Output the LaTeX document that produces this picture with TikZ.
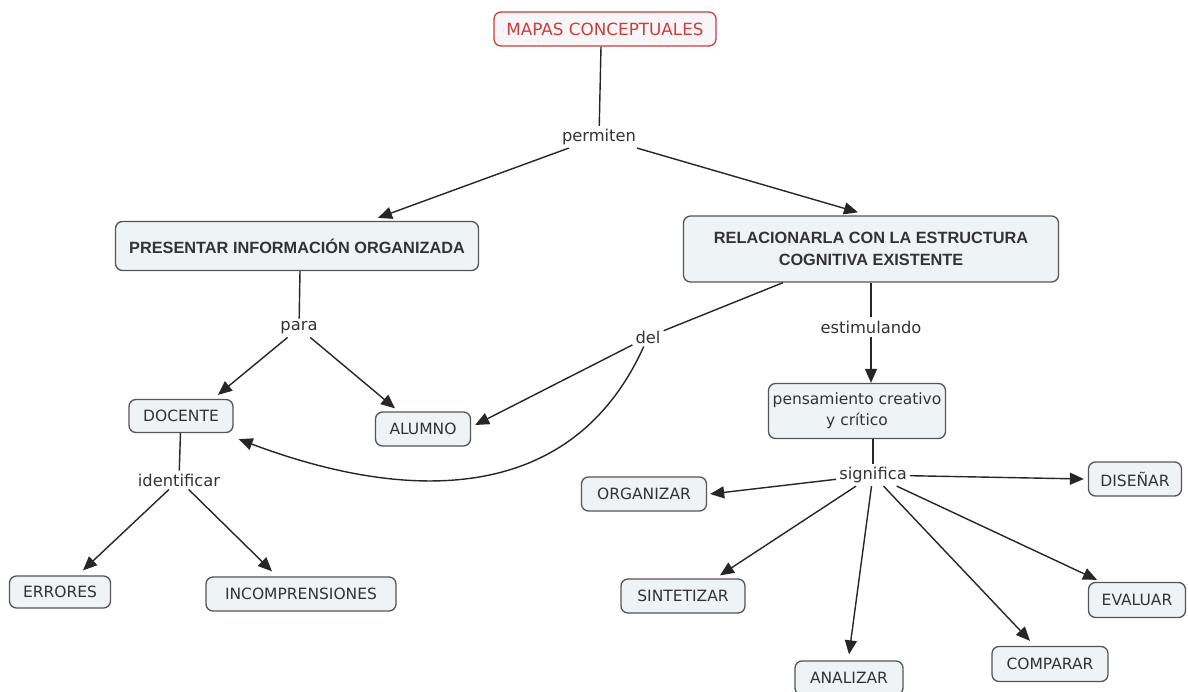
\documentclass[tikz,border=0pt]{standalone}
\usepackage{fontspec}
\setmainfont{DejaVu Sans}
\newfontfamily\arialf{Liberation Sans}
\usetikzlibrary{arrows.meta}
\definecolor{boxfill}{HTML}{EEF3F6}
\definecolor{boxdraw}{HTML}{555555}
\definecolor{txt}{HTML}{333333}
\definecolor{redc}{HTML}{C8403A}
\definecolor{redfill}{HTML}{F7F5F7}
\begin{document}
\begin{tikzpicture}[x=1pt,y=-1pt,
  concept/.style={draw=boxdraw, line width=1.3pt, fill=boxfill, rounded corners=7pt, text=txt,
    font=\fontsize{15.5}{21}\selectfont, inner sep=0pt, align=center},
  bconcept/.style={concept, font=\arialf\bfseries\fontsize{16.3}{22}\selectfont},
  lbl/.style={text=txt, font=\fontsize{16.3}{18}\selectfont, inner sep=3pt},
  arr/.style={-{Triangle[length=14pt,width=12pt]}, line width=1.4pt, draw=black!85},
  ln/.style={line width=1.4pt, draw=black!85}]
\useasboundingbox (0,0) rectangle (1188,692);
\fill[white] (0,0) rectangle (1188,692);

% concepts
\node[concept, draw=redc, fill=redfill, text=redc, font=\fontsize{16.8}{20}\selectfont, minimum width=222pt, minimum height=34pt] (map) at (605,29) {MAPAS CONCEPTUALES};
\node[bconcept, minimum width=363pt, minimum height=49pt] (pres) at (297,246) {PRESENTAR INFORMACIÓN ORGANIZADA};
\node[bconcept, minimum width=375pt, minimum height=66pt] (rel) at (871,249) {RELACIONARLA CON LA ESTRUCTURA\\COGNITIVA EXISTENTE};
\node[concept, minimum width=104pt, minimum height=33pt] (doc) at (181,416) {DOCENTE};
\node[concept, minimum width=95pt, minimum height=34pt] (alu) at (423,429) {ALUMNO};
\node[concept, minimum width=177pt, minimum height=55pt] (pens) at (857,411) {pensamiento creativo\\y crítico};
\node[concept, minimum width=125pt, minimum height=34pt] (org) at (644,494) {ORGANIZAR};
\node[concept, minimum width=93pt, minimum height=34pt] (dis) at (1135,479) {DISEÑAR};
\node[concept, minimum width=124pt, minimum height=34pt] (sin) at (683,596) {SINTETIZAR};
\node[concept, minimum width=97pt, minimum height=35pt] (eva) at (1137,600) {EVALUAR};
\node[concept, minimum width=108pt, minimum height=34pt] (ana) at (849,678) {ANALIZAR};
\node[concept, minimum width=116pt, minimum height=35pt] (com) at (1050,664) {COMPARAR};
\node[concept, minimum width=101pt, minimum height=32pt] (err) at (60,592) {ERRORES};
\node[concept, minimum width=190pt, minimum height=34pt] (inc) at (301,594) {INCOMPRENSIONES};

% linking phrases
\node[lbl] (perm) at (599,137) {permiten};
\node[lbl] (para) at (299,328) {para};
\node[lbl] (del) at (648,337) {del};
\node[lbl] (est) at (871,327) {estimulando};
\node[lbl] (iden) at (179,480) {identificar};
\node[lbl] (sig) at (873,475) {significa};

% connectors
\draw[ln] ([xshift=-4pt]map.south) -- (perm);
\draw[arr] (perm) -- ([xshift=81pt,yshift=3pt]pres.north);
\draw[arr] (perm) -- ([xshift=-13pt,yshift=3pt]rel.north);
\draw[ln] ([xshift=3pt]pres.south) -- (para);
\draw[arr] (para) -- ([xshift=37pt,yshift=4pt]doc.north);
\draw[arr] (para) -- ([xshift=-28pt,yshift=3pt]alu.north);
\draw[ln] ([xshift=-88pt]rel.south) -- (del);
\draw[arr] (del) -- ([xshift=4pt,yshift=4pt]alu.east);
\draw[arr] (del) .. controls (570,510) and (400,500) .. ([xshift=5pt,yshift=-6pt]doc.south east);
\draw[ln] (rel.south) -- (est);
\draw[arr] (est) -- ([xshift=14pt]pens.north);
\draw[ln] ([xshift=16pt]pens.south) -- (sig);
\draw[arr] (sig) -- ([xshift=3pt]org.east);
\draw[arr] (sig) -- ([xshift=-4pt]dis.west);
\draw[arr] (sig) -- ([xshift=37pt,yshift=3pt]sin.north);
\draw[arr] (sig) -- ([yshift=6pt]ana.north);
\draw[arr] (sig) -- ([xshift=-20pt,yshift=5pt]com.north);
\draw[arr] (sig) -- ([xshift=-40pt,yshift=2pt]eva.north);
\draw[ln] (doc) -- (iden);
\draw[arr] (iden) -- ([xshift=23pt,yshift=5pt]err.north);
\draw[arr] (iden) -- ([xshift=-29pt,yshift=5pt]inc.north);
\end{tikzpicture}
\end{document}
